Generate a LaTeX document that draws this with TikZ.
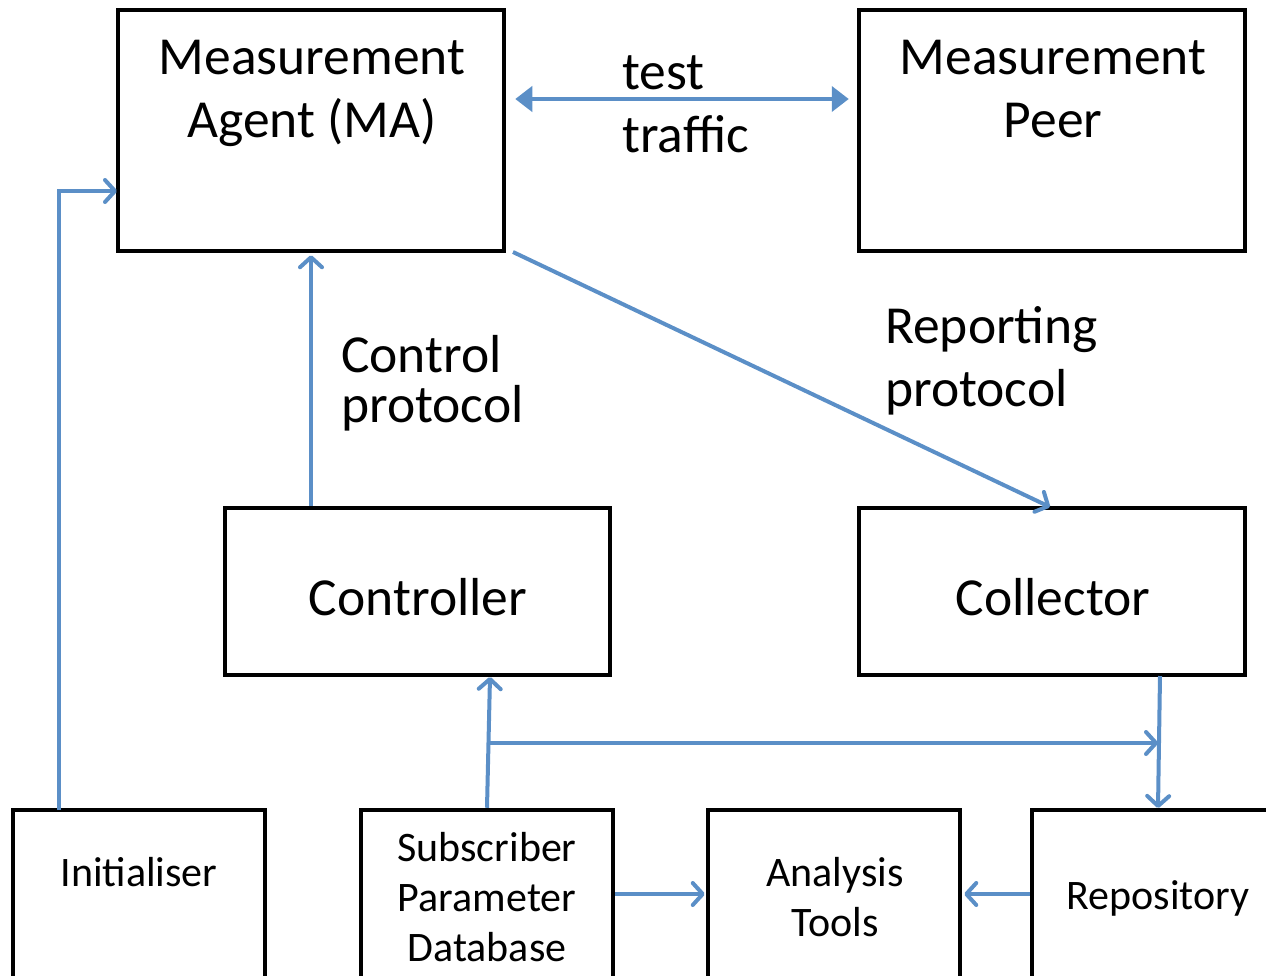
\documentclass[tikz,border=0pt]{standalone}
\usepackage{fontspec}
\setmainfont{Carlito}
\usetikzlibrary{arrows.meta}
\definecolor{lnblue}{RGB}{91,143,199}
\tikzset{
  box/.style={draw=black, line width=4.5pt, minimum width=386pt, minimum height=241pt, inner sep=0pt},
  arr/.style={draw=lnblue, line width=4pt, -{Straight Barb[length=10pt,width=22pt,line cap=round,line join=round]}},
  dbl/.style={draw=lnblue, line width=4pt, {Triangle[length=17pt,width=25pt]}-{Triangle[length=17pt,width=25pt]}},
  big/.style={inner sep=0pt, font=\fontsize{53.5}{63}\selectfont, align=center},
  small/.style={inner sep=0pt, font=\fontsize{42}{50}\selectfont, align=center},
}
\begin{document}
\begin{tikzpicture}[x=1pt,y=-1pt]
\useasboundingbox (0,0) rectangle (1266,975);
\clip (0,0) rectangle (1266,975);
% boxes
\node[box] (ma) at (311,130.5) {};
\node[box] (peer) at (1052,130.5) {};
\node[box, minimum width=385pt, minimum height=167pt] (ctrl) at (417.5,591.5) {};
\node[box, minimum width=386pt, minimum height=167pt] (coll) at (1052,591.5) {};
\node[box, minimum width=252pt, minimum height=168pt] (init) at (139,894) {};
\node[box, minimum width=252pt, minimum height=168pt] (subs) at (487,894) {};
\node[box, minimum width=252pt, minimum height=168pt] (anal) at (834,894) {};
\node[box, minimum width=252pt, minimum height=168pt] (repo) at (1158,894) {};
% texts
\node[big] (tma) at (312,93) {Measurement\\Agent (MA)};
\node[big] (tpeer) at (1053,89) {Measurement\\Peer};
\node[big, anchor=west, align=left] (ttest) at (622,104) {test\\traffic};
\node[big, anchor=west, align=left, font=\fontsize{53.5}{50}\selectfont] (tctl) at (341,383) {Control\\protocol};
\node[big, anchor=west, align=left] (trep) at (885,361) {Reporting\\protocol};
\node[big] (tctrl) at (418,597) {Controller};
\node[big] (tcoll) at (1053,597) {Collector};
\node[small] (tinit) at (139,872) {Initialiser};
\node[small] (tsubs) at (487,897) {Subscriber\\Parameter\\Database};
\node[small] (tanal) at (835,897) {Analysis\\Tools};
\node[small] (trepo) at (1158,898) {Repository};
% connectors
\coordinate (bj) at (490,743);
\coordinate (bk) at (1158,743);
\coordinate (ctrlin) at (490,677);
\coordinate (collout) at (1160,676);
\coordinate (rtip) at (1158,808);
\coordinate (mastart) at (513,252);
\coordinate (collin) at (1050,507);
\coordinate (initcorner) at (59,191);
\coordinate (initstart) at (59,810);
\coordinate (mainit) at (117,191);
\draw[dbl] ([xshift=9pt]ma.east |- 0,99) -- ([xshift=-8pt]peer.west |- 0,99);
\draw[arr] (ctrl.north -| ma.south) -- ([yshift=-2pt]ma.south);
\draw[arr] (mastart) -- (collin);
\draw[arr] (initstart) -- (initcorner) -- (mainit);
\draw[arr] (subs.north) -- (ctrlin);
\draw[arr] (bj) -- (bk);
\draw[arr] (collout) -- (rtip);
\draw[arr] (subs.east) -- ([xshift=-1pt]anal.west);
\draw[arr] (repo.west) -- ([xshift=2pt]anal.east);
\end{tikzpicture}
\end{document}
